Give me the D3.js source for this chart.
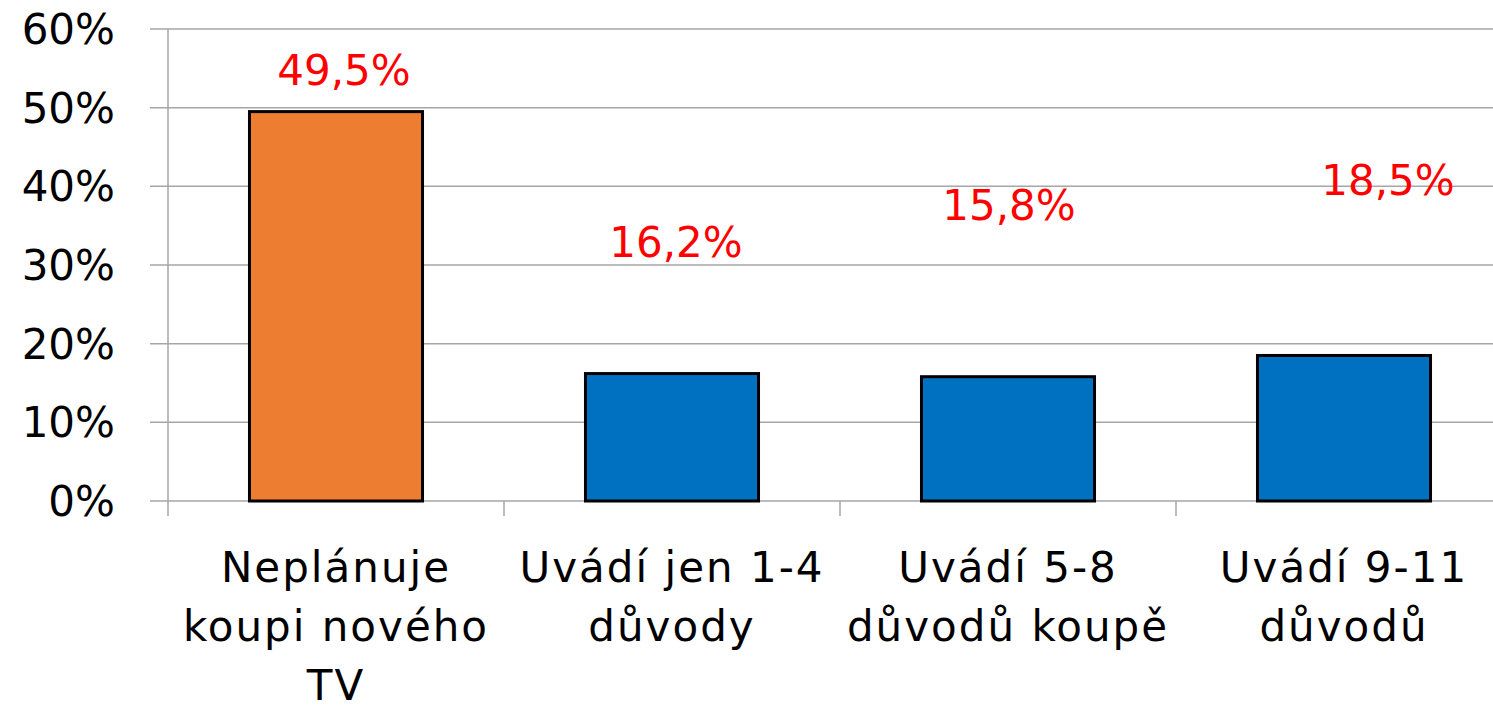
<!DOCTYPE html>
<html>
<head>
<meta charset="utf-8">
<script src="https://cdn.jsdelivr.net/npm/d3@7"></script>
<style>
  body { margin: 0; background: #fff; }
  svg text { font-family: "DejaVu Sans", sans-serif; }
  .tick-label { font-size: 42px; fill: #000; }
  .cat-label { font-size: 42px; fill: #000; letter-spacing: 2px; }
  .value-label { font-size: 42px; fill: #ff0000; }
</style>
</head>
<body>
<script>
const CATEGORIES = [
  ['Neplánuje', 'koupi nového', 'TV'],
  ['Uvádí jen 1-4', 'důvody'],
  ['Uvádí 5-8', 'důvodů koupě'],
  ['Uvádí 9-11', 'důvodů']
];
const VALUES = [49.5, 16.2, 15.8, 18.5];
const VALUE_TEXT = ['49,5%', '16,2%', '15,8%', '18,5%'];
const Y_TICKS = [0, 10, 20, 30, 40, 50, 60];
// where the red labels sit (in axis units) and their sideways shift
const LABEL_AT = [52.9, 31.0, 35.7, 38.9];
const LABEL_DX = [8, 4, 1, 44];

const width = 1493;
const height = 708;
const margin = { top: 29, left: 168, bottom: 207 };
const step = 336;
const gray = '#a6a6a6';

const svg = d3.select('body').append('svg')
  .attr('width', width)
  .attr('height', height);

const y = d3.scaleLinear()
  .domain([0, 60])
  .range([height - margin.bottom, margin.top]);

const x = d3.scaleBand()
  .domain(d3.range(CATEGORIES.length))
  .range([margin.left, margin.left + step * CATEGORIES.length])
  .paddingInner(0.485)
  .paddingOuter(0.2425);

const xEdge = d3.scaleLinear()
  .domain([0, CATEGORIES.length])
  .range([margin.left, margin.left + step * CATEGORIES.length]);

// gridlines
svg.append('g')
  .selectAll('line')
  .data(Y_TICKS)
  .join('line')
  .attr('x1', 150)
  .attr('x2', width)
  .attr('y1', d => y(d))
  .attr('y2', d => y(d))
  .attr('stroke', gray)
  .attr('stroke-width', 1.5);

// y axis line and category ticks
svg.append('line')
  .attr('x1', margin.left).attr('x2', margin.left)
  .attr('y1', y(60)).attr('y2', y(0) + 15)
  .attr('stroke', gray)
  .attr('stroke-width', 1.5);

svg.append('g')
  .selectAll('line')
  .data(d3.range(1, CATEGORIES.length + 1))
  .join('line')
  .attr('x1', d => xEdge(d))
  .attr('x2', d => xEdge(d))
  .attr('y1', y(0))
  .attr('y2', y(0) + 15)
  .attr('stroke', gray)
  .attr('stroke-width', 1.5);

// y tick labels
svg.append('g')
  .selectAll('text')
  .data(Y_TICKS)
  .join('text')
  .attr('class', 'tick-label')
  .attr('x', 115)
  .attr('y', d => y(d))
  .attr('dy', '0.36em')
  .attr('text-anchor', 'end')
  .text(d => d + '%');

// bars
svg.append('g')
  .selectAll('rect')
  .data(VALUES)
  .join('rect')
  .attr('x', (d, i) => x(i))
  .attr('y', d => y(d))
  .attr('width', x.bandwidth())
  .attr('height', d => y(0) - y(d))
  .attr('fill', (d, i) => i === 0 ? '#ED7D31' : '#0070C0')
  .attr('stroke', '#000')
  .attr('stroke-width', 3);

// value labels
svg.append('g')
  .selectAll('text')
  .data(VALUE_TEXT)
  .join('text')
  .attr('class', 'value-label')
  .attr('x', (d, i) => x(i) + x.bandwidth() / 2 + LABEL_DX[i])
  .attr('y', (d, i) => y(LABEL_AT[i]))
  .attr('text-anchor', 'middle')
  .text(d => d);

// category labels
const cats = svg.append('g')
  .selectAll('text')
  .data(CATEGORIES)
  .join('text')
  .attr('class', 'cat-label')
  .attr('text-anchor', 'middle')
  .attr('x', (d, i) => x(i) + x.bandwidth() / 2)
  .attr('y', 582);

cats.selectAll('tspan')
  .data(d => d)
  .join('tspan')
  .attr('x', function () { return this.parentNode.getAttribute('x'); })
  .attr('dy', (d, i) => i === 0 ? 0 : 59)
  .text(d => d);
</script>
</body>
</html>
